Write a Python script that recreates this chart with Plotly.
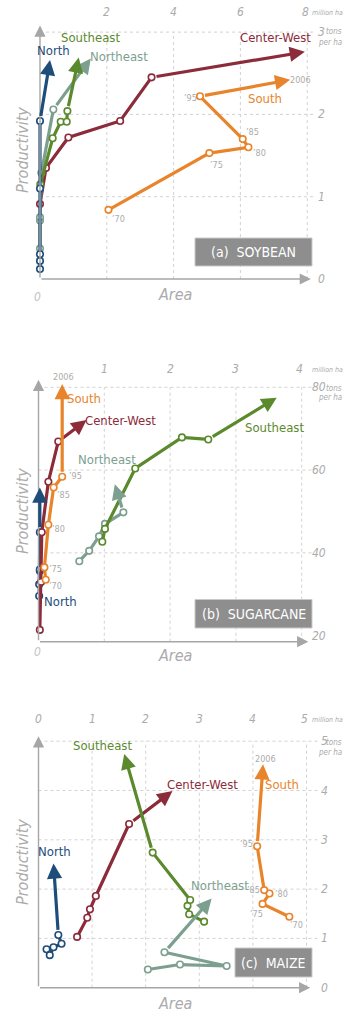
import plotly.graph_objects as go

W, H = 345, 1024
FONT = "Liberation Sans Narrow, DejaVu Sans Condensed, Open Sans, sans-serif"
TXT_GRAY = "#ababab"
AXIS_C = "#a6a6a6"
GRID_C = "#d2d2d2"
COLORS = {"North": "#1f4d7a", "Northeast": "#7d9f90", "Southeast": "#5b8a2d",
          "Center-West": "#8c2b3a", "South": "#e8842b"}

# ---------------- data (area in million ha, productivity) ----------------
# years: 1970, 1975, 1980, 1985, 1995, 2006
# (a) soybean, tons per ha
soy_north_area = [0.0, 0.0, 0.0, 0.0, 0.0, 0.30]
soy_north_prod = [0.12, 0.22, 0.30, 1.10, 1.92, 2.66]
soy_ne_area = [0.0, 0.0, 0.0, 0.04, 0.40, 1.52]
soy_ne_prod = [0.37, 0.71, 0.75, 1.29, 2.06, 2.68]
soy_se_area = [0.01, 0.38, 0.62, 0.80, 0.82, 1.16]
soy_se_prod = [1.15, 1.71, 1.91, 1.91, 2.04, 2.69]
soy_cw_area = [0.0, 0.18, 0.85, 2.40, 3.34, 7.93]
soy_cw_prod = [0.91, 1.35, 1.72, 1.92, 2.45, 2.76]
soy_s_area = [2.05, 5.07, 6.24, 6.07, 4.79, 7.49]
soy_s_prod = [0.84, 1.53, 1.60, 1.70, 2.22, 2.42]

# (b) sugarcane, tons per ha
sug_north_area = [0.01, 0.01, 0.02, 0.02, 0.02, 0.02]
sug_north_prod = [29.6, 32.4, 35.6, 36.0, 45.0, 55.8]
sug_ne_area = [0.62, 0.77, 0.92, 1.01, 1.29, 1.16]
sug_ne_prod = [38.0, 40.5, 44.0, 47.0, 49.8, 56.6]
sug_se_area = [0.97, 1.01, 1.47, 2.18, 2.58, 3.62]
sug_se_prod = [42.7, 45.8, 60.4, 67.9, 67.4, 77.5]
sug_cw_area = [0.02, 0.04, 0.05, 0.15, 0.30, 0.73]
sug_cw_prod = [21.4, 33.0, 45.0, 57.2, 66.9, 72.1]
sug_s_area = [0.11, 0.09, 0.15, 0.23, 0.36, 0.36]
sug_s_prod = [33.5, 36.5, 46.8, 55.8, 58.4, 80.8]

# (c) maize, tons per ha
mai_north_area = [0.15, 0.21, 0.28, 0.43, 0.37, 0.28]
mai_north_prod = [0.78, 0.66, 0.82, 0.89, 1.07, 2.52]
mai_ne_area = [2.04, 2.64, 3.51, 2.35, 3.23]
mai_ne_prod = [0.37, 0.47, 0.44, 0.72, 1.81]
mai_se_area = [3.09, 2.81, 2.78, 2.83, 2.13, 1.60]
mai_se_prod = [1.34, 1.49, 1.66, 1.78, 2.74, 4.74]
mai_cw_area = [0.72, 0.91, 0.96, 1.07, 1.69, 2.50]
mai_cw_prod = [1.03, 1.42, 1.59, 1.86, 3.32, 3.99]
mai_s_area = [4.68, 4.18, 4.31, 4.21, 4.08, 4.19]
mai_s_prod = [1.44, 1.70, 1.91, 1.98, 2.87, 4.53]

soy_x_ticks = [2, 4, 6, 8]
soy_y_ticks = [0, 1, 2, 3]
sug_x_ticks = [1, 2, 3, 4]
sug_y_ticks = [20, 40, 60, 80]
mai_x_ticks = [0, 1, 2, 3, 4, 5]
mai_y_ticks = [0, 1, 2, 3, 4, 5]

# ---------------- layout of panels (pixel geometry) ----------------
panels = [
    dict(n="", ox=40, sx=33.4, oy=279, sy=82.3, v0=0, xr=[-0.4, 8.6], yr=[-0.3, 3.3],
         xaxis_y=0, xtip=8.11, ytip=3.08, xgrid_end=8.25,
         xticks=soy_x_ticks, yticks=soy_y_ticks, top_py=12, right_px=321,
         unit_dy=(31, 42), title="(a)  SOYBEAN", box=(195, 238, 312, 266),
         prod_c=150, area_y=294, zero_bottom=(37, 297)),
    dict(n="2", ox=38.5, sx=65.8, oy=635.7, sy=4.14, v0=20, xr=[-0.2, 4.3], yr=[16, 82],
         xaxis_y=18.55, xtip=4.10, ytip=81.8, xgrid_end=4.15,
         xticks=sug_x_ticks, yticks=sug_y_ticks, top_py=369, right_px=319,
         unit_dy=(388, 397), title="(b)  SUGARCANE", box=(195, 599.5, 312, 628),
         prod_c=511, area_y=655.5, zero_bottom=(37.7, 652)),
    dict(n="3", ox=38.5, sx=53.6, oy=987.7, sy=49.3, v0=0, xr=[-0.25, 5.4], yr=[-0.3, 5.2],
         xaxis_y=0, xtip=5.07, ytip=5.1, xgrid_end=5.2,
         xticks=mai_x_ticks, yticks=mai_y_ticks, top_py=719, right_px=324,
         unit_dy=(742, 752), title="(c)  MAIZE", box=(235, 948, 312, 977),
         prod_c=862, area_y=1003, zero_bottom=None),
]

series = [
    [("South", soy_s_area, soy_s_prod), ("Center-West", soy_cw_area, soy_cw_prod),
     ("Northeast", soy_ne_area, soy_ne_prod), ("Southeast", soy_se_area, soy_se_prod),
     ("North", soy_north_area, soy_north_prod)],
    [("North", sug_north_area, sug_north_prod), ("Center-West", sug_cw_area, sug_cw_prod),
     ("South", sug_s_area, sug_s_prod), ("Northeast", sug_ne_area, sug_ne_prod),
     ("Southeast", sug_se_area, sug_se_prod)],
    [("North", mai_north_area, mai_north_prod), ("Center-West", mai_cw_area, mai_cw_prod),
     ("Southeast", mai_se_area, mai_se_prod), ("Northeast", mai_ne_area, mai_ne_prod),
     ("South", mai_s_area, mai_s_prod)],
]

# region name labels (pixel centres) and year labels
region_labels = [
    [("North", 53, 50), ("Southeast", 90, 37.5), ("Northeast", 118.5, 56),
     ("Center-West", 275, 37.5), ("South", 265, 98.5)],
    [("South", 83.5, 398.5), ("Center-West", 120, 420), ("Northeast", 107, 459.5),
     ("Southeast", 274.5, 427), ("North", 60, 601.5)],
    [("Southeast", 102, 745.5), ("Center-West", 202.5, 784.5), ("South", 281.5, 784.5),
     ("North", 55, 851), ("Northeast", 220, 885.5)],
]
year_labels = [
    [("2006", 300.5, 80), ("’95", 191, 97.5), ("’85", 252, 132), ("’80", 259.5, 152.5),
     ("’75", 216.5, 165), ("’70", 118, 219)],
    [("2006", 63.5, 377), ("’95", 75, 476), ("’85", 63.5, 495), ("’80", 58.5, 529),
     ("’75", 55.5, 568.5), ("’70", 55.5, 586)],
    [("2006", 265, 758.5), ("’95", 246.5, 844), ("’85", 253.5, 889.5), ("’80", 281, 893.5),
     ("’75", 256.5, 914), ("’70", 296, 924.5)],
]

fig = go.Figure()
annotations = []
shapes = []


def pxx(x):
    return x / W


def pyy(y):
    return 1 - y / H


for i, p in enumerate(panels):
    xa, ya = "x" + p["n"], "y" + p["n"]
    xdom = [(p["ox"] + p["sx"] * p["xr"][0]) / W, (p["ox"] + p["sx"] * p["xr"][1]) / W]
    ydom = [pyy(p["oy"] - p["sy"] * (p["yr"][0] - p["v0"])),
            pyy(p["oy"] - p["sy"] * (p["yr"][1] - p["v0"]))]
    fig.layout["xaxis" + p["n"]] = dict(domain=xdom, range=p["xr"], visible=False,
                                        anchor=ya, fixedrange=True)
    fig.layout["yaxis" + p["n"]] = dict(domain=ydom, range=p["yr"], visible=False,
                                        anchor=xa, fixedrange=True)
    ybot = p["xaxis_y"]
    ytop_grid = max(p["yticks"])
    # gridlines
    for t in p["xticks"]:
        if t == 0:
            continue
        shapes.append(dict(type="line", xref=xa, yref=ya, x0=t, x1=t, y0=ybot, y1=ytop_grid,
                           line=dict(color=GRID_C, width=1, dash="dot"), layer="below"))
    for t in p["yticks"]:
        if t == min(p["yticks"]):
            continue
        shapes.append(dict(type="line", xref=xa, yref=ya, x0=0, x1=p["xgrid_end"], y0=t, y1=t,
                           line=dict(color=GRID_C, width=1, dash="dot"), layer="below"))
    # axes with arrows
    annotations.append(dict(x=0, y=p["ytip"], ax=0, ay=ybot, xref=xa, yref=ya, axref=xa, ayref=ya,
                            showarrow=True, arrowhead=2, arrowsize=1.6, arrowwidth=1.4,
                            arrowcolor=AXIS_C, text="", standoff=0))
    annotations.append(dict(x=p["xtip"], y=ybot, ax=0, ay=ybot, xref=xa, yref=ya, axref=xa, ayref=ya,
                            showarrow=True, arrowhead=2, arrowsize=1.6, arrowwidth=1.4,
                            arrowcolor=AXIS_C, text="", standoff=0))
    # series
    for name, area, prod in series[i]:
        col = COLORS[name]
        fig.add_trace(go.Scatter(
            x=area[:-1], y=prod[:-1], xaxis=xa, yaxis=ya, mode="lines+markers",
            line=dict(color=col, width=3.2),
            marker=dict(size=6.5, color="white", line=dict(color=col, width=1.6)),
            cliponaxis=False, showlegend=False, hoverinfo="skip"))
        annotations.append(dict(x=area[-1], y=prod[-1], ax=area[-2], ay=prod[-2],
                                xref=xa, yref=ya, axref=xa, ayref=ya, showarrow=True,
                                arrowhead=2, arrowsize=0.95, arrowwidth=3.2, arrowcolor=col,
                                startstandoff=3.5, standoff=0, text=""))
    # tick labels: top
    tmax = max(p["xticks"])
    for t in p["xticks"]:
        annotations.append(dict(x=t, y=pyy(p["top_py"]), xref=xa, yref="paper",
                                text="<i>%d</i>" % t, xshift=(-2 if t == tmax else 0),
                                showarrow=False, font=dict(family=FONT, size=12, color=TXT_GRAY),
                                xanchor="center", yanchor="middle"))
    annotations.append(dict(x=pxx(344.5), y=pyy(p["top_py"] + 0.5), xref="paper", yref="paper",
                            text="<i>million ha</i>", showarrow=False,
                            font=dict(family=FONT, size=7, color=TXT_GRAY),
                            xanchor="right", yanchor="middle"))
    # tick labels: right
    for t in p["yticks"]:
        annotations.append(dict(x=pxx(p["right_px"]), y=t, xref="paper", yref=ya,
                                text="<i>%d</i>" % t,
                                showarrow=False, font=dict(family=FONT, size=12, color=TXT_GRAY),
                                xanchor="center", yanchor="middle"))
    annotations.append(dict(x=pxx(344), y=pyy(p["unit_dy"][0]), xref="paper", yref="paper",
                            text="<i>tons</i>", showarrow=False,
                            font=dict(family=FONT, size=8, color=TXT_GRAY),
                            xanchor="right", yanchor="middle"))
    annotations.append(dict(x=pxx(344), y=pyy(p["unit_dy"][1]), xref="paper",
                            yref="paper", text="<i>per ha</i>", showarrow=False,
                            font=dict(family=FONT, size=8, color=TXT_GRAY),
                            xanchor="right", yanchor="middle"))
    if p["zero_bottom"]:
        zx, zy = p["zero_bottom"]
        annotations.append(dict(x=pxx(zx), y=pyy(zy), xref="paper", yref="paper", text="<i>0</i>",
                                showarrow=False, font=dict(family=FONT, size=12, color="#c4c4c4"),
                                xanchor="center", yanchor="middle"))
    # axis titles
    annotations.append(dict(x=pxx(22), y=pyy(p["prod_c"]), xref="paper", yref="paper",
                            text="<i>Productivity</i>", textangle=-90, showarrow=False,
                            font=dict(family=FONT, size=16, color=TXT_GRAY),
                            xanchor="center", yanchor="middle"))
    annotations.append(dict(x=pxx(175), y=pyy(p["area_y"]), xref="paper", yref="paper",
                            text="<i>Area</i>", showarrow=False,
                            font=dict(family=FONT, size=16, color=TXT_GRAY),
                            xanchor="center", yanchor="middle"))
    # title box
    bx0, by0, bx1, by1 = p["box"]
    shapes.append(dict(type="rect", xref="paper", yref="paper", x0=pxx(bx0), x1=pxx(bx1),
                       y0=pyy(by1), y1=pyy(by0), fillcolor="#8e8e8e",
                       line=dict(color="#c9c9c9", width=1), layer="above"))
    annotations.append(dict(x=pxx((bx0 + bx1) / 2), y=pyy((by0 + by1) / 2), xref="paper",
                            yref="paper", text=p["title"], showarrow=False,
                            font=dict(family=FONT, size=14, color="white"),
                            xanchor="center", yanchor="middle"))
    # region labels
    for name, lx, ly in region_labels[i]:
        annotations.append(dict(x=pxx(lx), y=pyy(ly), xref="paper", yref="paper", text=name,
                                showarrow=False, font=dict(family=FONT, size=13, color=COLORS[name]),
                                xanchor="center", yanchor="middle"))
    for txt, lx, ly in year_labels[i]:
        annotations.append(dict(x=pxx(lx), y=pyy(ly), xref="paper", yref="paper", text=txt,
                                showarrow=False, font=dict(family=FONT, size=9, color=TXT_GRAY),
                                xanchor="center", yanchor="middle"))

fig.update_layout(width=W, height=H, margin=dict(l=0, r=0, t=0, b=0), autosize=False,
                  paper_bgcolor="white", plot_bgcolor="rgba(0,0,0,0)",
                  annotations=annotations, shapes=shapes, showlegend=False)
fig.write_html("out.html")
